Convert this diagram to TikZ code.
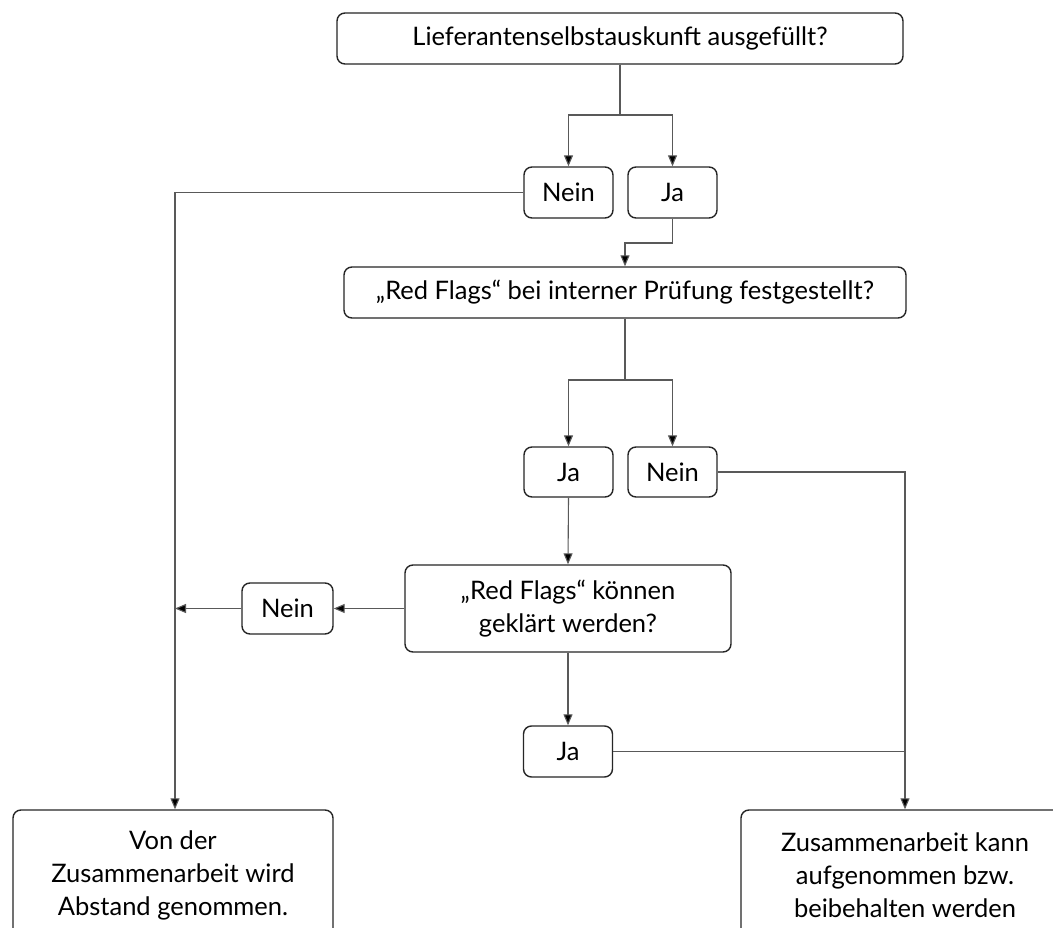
\documentclass[tikz,border=0pt]{standalone}
\usepackage{fontspec}
\setmainfont{Lato}
\usetikzlibrary{arrows.meta}
\begin{document}
\begin{tikzpicture}[x=1pt,y=-1pt,
  box/.style={draw=black!85,line width=1.4pt,rounded corners=8pt,align=center,inner sep=0pt,font=\fontsize{25.5}{33}\selectfont},
  conn/.style={draw=black!65,line width=1.1pt},
  arr/.style={conn,-{Triangle[length=11pt,width=9pt,fill=black]}}]
\clip (0,0) rectangle (1053,928);
\fill[white] (0,0) rectangle (1053,928);
\node[box,minimum width=566pt,minimum height=51pt] (q1) at (620,38.5) {Lieferantenselbstauskunft ausgefüllt?};
\node[box,minimum width=89pt,minimum height=51pt] (n1) at (568.5,192.5) {Nein};
\node[box,minimum width=89pt,minimum height=51pt] (j1) at (672.5,192.5) {Ja};
\node[box,minimum width=562pt,minimum height=51pt] (q2) at (625,292.5) {„Red Flags“ bei interner Prüfung festgestellt?};
\node[box,minimum width=89pt,minimum height=50pt] (j2) at (568.5,472) {Ja};
\node[box,minimum width=89pt,minimum height=50pt] (n2) at (672.5,472) {Nein};
\node[box,minimum width=326pt,minimum height=87pt] (q3) at (568,608.5) {„Red Flags“ können\\geklärt werden?};
\node[box,minimum width=91pt,minimum height=51pt] (n3) at (287.5,608.5) {Nein};
\node[box,minimum width=89pt,minimum height=51pt] (j3) at (568,751.5) {Ja};
\node[box,minimum width=320pt,minimum height=130pt] (eL) at (173,875) {Von der\\Zusammenarbeit wird\\Abstand genommen.};
\node[box,minimum width=328pt,minimum height=130pt] (eR) at (905,875) {Zusammenarbeit kann\\aufgenommen bzw.\\beibehalten werden};
\coordinate (s1) at (620,115);
\coordinate (s2) at (625,243);
\coordinate (s3) at (625,380);
\coordinate (jL) at (175,608.5);
\draw[conn] (q1.south) -- (s1);
\draw[arr] (s1) -| (n1.north);
\draw[arr] (s1) -| (j1.north);
\draw[arr] (n1.west) -| (eL.north -| jL);
\draw[arr] (j1.south) |- (s2) -- (q2.north);
\draw[conn] (q2.south) -- (s3);
\draw[arr] (s3) -| (j2.north);
\draw[arr] (s3) -| (n2.north);
\draw[arr] (n2.east) -| (eR.north);
\draw[arr] (j2.south) -- (q3.north);
\draw[arr] (q3.west) -- (n3.east);
\draw[arr] (n3.west) -- (jL);
\draw[arr] (q3.south) -- (j3.north);
\draw[conn] (j3.east) -- (j3.east -| eR.north);
\end{tikzpicture}
\end{document}
